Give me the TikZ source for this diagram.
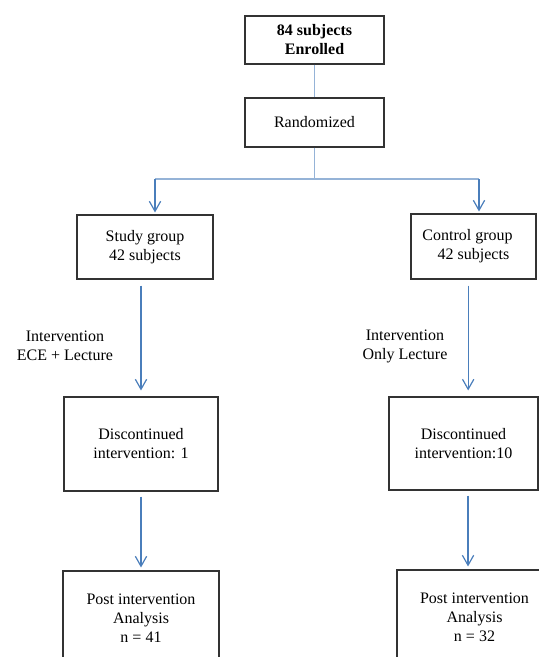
\documentclass[tikz,border=0pt]{standalone}
\usepackage{fontspec}
\setmainfont{Liberation Serif}
\usetikzlibrary{arrows.meta}
\definecolor{linkblue}{HTML}{95B3D7}
\definecolor{arrblue}{HTML}{4A7EBB}

\begin{document}
\begin{tikzpicture}[x=0.75pt, y=-0.75pt,
    font=\fontsize{12}{14.25}\selectfont,
    box/.style 2 args={draw=black!80, line width=0.8pt, align=center, inner sep=0pt,
      minimum width=#1*0.75pt, minimum height=#2*0.75pt},
    link/.style={draw=linkblue, line width=0.9pt},
    arr/.style={draw=arrblue, line width=0.9pt, -{Straight Barb[length=7.5pt,width=8.5pt]}}]
  \useasboundingbox (0,0) rectangle (539,657);

  % boxes
  \node[box={139}{48}, font=\fontsize{12}{14.25}\selectfont\bfseries] (enr) at (314.5,40) {84 subjects\\Enrolled};
  \node[box={139}{49}] (rand) at (314.5,122.5) {Randomized};
  \node[box={136}{64}] (study) at (145,247) {Study group\\42 subjects};
  \node[box={125}{65}] (ctrl) at (473.5,246.5) {Control group\hspace*{9pt}\\42 subjects};
  \node[box={154}{94}] (discL) at (141,444) {Discontinued\\intervention: 1};
  \node[box={149}{93}] (discR) at (463.5,443.5) {Discontinued\\intervention:10};
  \node[box={156}{94}] (postL) at (141,618) {Post intervention\\Analysis\\n = 41};
  \node[box={155}{95}] (postR) at (474.5,617.5) {Post intervention\\Analysis\\n = 32};

  % labels
  \node[align=center] (labL) at (65,345.5) {Intervention\\ECE + Lecture};
  \node[align=center] (labR) at (405,346.5) {Intervention\\Only Lecture};

  % split after randomization
  \coordinate (sl) at (155,179);
  \coordinate (sr) at (479,179);
  \draw[link] (enr) -- (rand);
  \draw[link] (rand) -- (rand |- sl);
  \draw[link] (sl) -- (sr);
  \draw[arr, shorten >=1.5pt] (sl) -- (sl |- study.north);
  \draw[arr, shorten >=1.5pt] (sr) -- (sr |- ctrl.north);

  % branches
  \draw[arr, shorten <=4.5pt, shorten >=4.5pt] (study.south -| discL.north) -- (discL.north);
  \draw[arr, shorten <=3.75pt, shorten >=2.25pt] (discL) -- (postL);
  \draw[arr, shorten <=4.5pt, shorten >=4.5pt] ([xshift=-4pt]ctrl.south) -- ([xshift=-4pt]ctrl.south |- discR.north);
  \draw[arr, shorten <=3.75pt, shorten >=2.25pt] ([xshift=3.4pt]discR.south) -- ([xshift=3.4pt]discR.south |- postR.north);
\end{tikzpicture}
\end{document}
